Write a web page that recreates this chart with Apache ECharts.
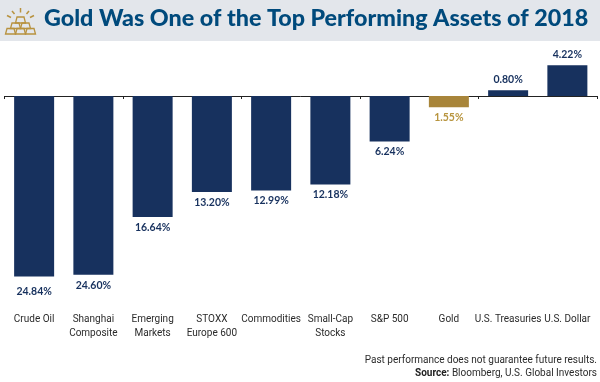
<!DOCTYPE html>
<html><head><meta charset="utf-8">
<style>html,body{margin:0;padding:0;background:#fff}#c{width:600px;height:382px}</style>
<script src="https://cdn.jsdelivr.net/npm/echarts@6/dist/echarts.min.js"></script>
</head><body><div id="c"></div>
<script>
const categories=['Crude Oil','Shanghai\nComposite','Emerging\nMarkets','STOXX\nEurope 600','Commodities','Small-Cap\nStocks','S&P 500','Gold','U.S. Treasuries','U.S. Dollar'];
const returns=[-24.84,-24.60,-16.64,-13.20,-12.99,-12.18,-6.24,-1.55,0.80,4.22];
const highlight='Gold';
const titleText='Gold Was One of the Top Performing Assets of 2018';
const navy='#17315e', gold='#a8853a', goldText='#b8953f', gold2='#b8923f';
const chart=echarts.init(document.getElementById('c'),null,{renderer:'canvas'});
const fmt=v=>Math.abs(v).toFixed(2)+'%';
const trap=(x,y,w,h)=>({type:'polygon',shape:{points:[[x+1.5,y],[x+w-1.5,y],[x+w,y+h],[x,y+h]]},style:{fill:'transparent',stroke:gold2,lineWidth:1.3}});
const ray=(x1,y1,x2,y2)=>({type:'line',shape:{x1,y1,x2,y2},style:{stroke:gold2,lineWidth:1.5}});
chart.setOption({
 animation:false,
 title:{text:titleText,left:39,top:2,textStyle:{fontFamily:'Lato',fontWeight:900,fontSize:23.3,color:'#004a7c'}},
 grid:{left:4.5,right:3,top:52.4,height:261.7,containLabel:false},
 xAxis:[
  {type:'category',data:categories,position:'bottom',axisLine:{show:false,onZero:false},axisTick:{show:false},
   axisLabel:{interval:0,margin:-1,fontFamily:'Roboto',fontSize:10,lineHeight:13.5,color:'#2b2b2b'}},
  {type:'category',data:categories,position:'bottom',axisLine:{onZero:true,lineStyle:{color:'#222',width:1}},
   axisTick:{show:true,length:3,lineStyle:{color:'#222'}},axisLabel:{show:false}}
 ],
 yAxis:{type:'value',min:-30,max:6,show:false,splitLine:{show:false}},
 series:[{type:'bar',data:returns.map((v,i)=>({value:v,itemStyle:{color:categories[i]===highlight?gold:navy},
   label:{color:categories[i]===highlight?goldText:navy,distance:i===0?10:5}})),
  barWidth:40,
  label:{show:true,position:'outside',distance:5,fontFamily:'Lato',fontWeight:'bold',fontSize:10.5,formatter:p=>fmt(p.value)}}],
 graphic:[
  {type:'rect',z:-1,shape:{x:0,y:0,width:600,height:41},style:{fill:'#e3e6eb'}},
  {type:'group',children:[
    trap(5.5,28.5,10,5.5),trap(15.5,28.5,10,5.5),trap(25.5,28.5,10,5.5),
    trap(10.5,23,10,5.5),trap(20.5,23,10,5.5),
    trap(15.5,17,10,6),
    ray(20.5,8,20.5,12.5),ray(12,11,14.5,14),ray(29,11,26.5,14),ray(7,15.5,11,17.5),ray(34,15.5,30,17.5)
  ]},
  {type:'text',right:3,top:355,style:{text:'Past performance does not guarantee future results.',align:'right',fontFamily:'Roboto',fontSize:10,fill:'#2b2b2b'}},
  {type:'text',right:3,top:368,style:{text:'{b|Source:} Bloomberg, U.S. Global Investors',align:'right',fontFamily:'Roboto',fontSize:10,fill:'#2b2b2b',rich:{b:{fontFamily:'Roboto',fontWeight:'bold',fontSize:10,fill:'#222'}}}}
 ]
});
</script></body></html>
